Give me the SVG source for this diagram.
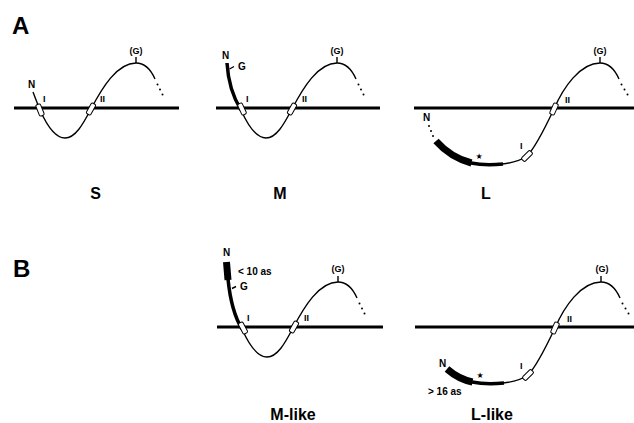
<svg xmlns="http://www.w3.org/2000/svg" width="634" height="423" viewBox="0 0 634 423">
<style>
.mem{stroke:#000;stroke-width:3;fill:none}
.ch{stroke:#000;stroke-width:1.4;fill:none}
.thk{stroke:#000;stroke-width:3.5;fill:none}
.vthk{stroke:#000;stroke-width:7;fill:none}
.box{fill:#fff;stroke:#000;stroke-width:1}
.t{font-family:"Liberation Sans",Arial,sans-serif;font-weight:bold;fill:#000}
.sm{font-size:9px}
.lb{font-size:10px}
.big{font-size:16px}
.hd{font-size:24px}
.st{font-family:"DejaVu Sans",sans-serif;font-size:8px;fill:#000}
</style>
<defs>
<rect id="bx" x="-2.5" y="-6" width="5" height="12" rx="1.5" class="box"/>
<circle id="dt" r="1" fill="#000"/>
</defs>
<rect width="634" height="423" fill="#fff"/>
<text class="t hd" x="12" y="34">A</text>
<text class="t hd" x="13" y="277">B</text>

<g id="panel-S">
<line class="mem" x1="14" y1="108" x2="179" y2="108"/>
<path class="ch" d="M 33 92 Q 36 100 40 110 C 48 128 56 138 65 138 C 76 138 84 122 91 109 C 102 88 117 63 136 63 C 145 63 151 70 155 79"/>
<line class="ch" x1="136" y1="57" x2="136" y2="63"/>
<use href="#bx" transform="translate(40 110) rotate(-22)"/>
<use href="#bx" transform="translate(91 109) rotate(30)"/>
<use href="#dt" x="157.5" y="84.5"/><use href="#dt" x="160" y="89.5"/><use href="#dt" x="162.5" y="94.5"/>
<text class="t lb" x="28" y="88">N</text>
<text class="t sm" x="43" y="102">I</text>
<text class="t sm" x="100" y="102">II</text>
<text class="t sm" x="136" y="54" text-anchor="middle">(G)</text>
<text class="t big" x="95.5" y="199" text-anchor="middle">S</text>
</g>

<g id="panel-M" transform="translate(201 0)">
<line class="mem" x1="15" y1="108" x2="179" y2="108"/>
<path class="ch" d="M 40 110 C 48 128 56 138 65 138 C 76 138 84 122 91 109 C 102 88 117 63 136 63 C 145 63 151 70 155 79"/>
<path class="thk" d="M 26 63 C 27 80 32 97 40 110"/>
<line class="ch" x1="28.5" y1="69" x2="33" y2="66.5"/>
<line class="ch" x1="136" y1="57" x2="136" y2="63"/>
<use href="#bx" transform="translate(41 109) rotate(-25)"/>
<use href="#bx" transform="translate(91 109) rotate(30)"/>
<use href="#dt" x="157.5" y="84.5"/><use href="#dt" x="160" y="89.5"/><use href="#dt" x="162.5" y="94.5"/>
<text class="t lb" x="21" y="59">N</text>
<text class="t lb" x="37" y="70">G</text>
<text class="t sm" x="45" y="102">I</text>
<text class="t sm" x="101" y="102">II</text>
<text class="t sm" x="136" y="54" text-anchor="middle">(G)</text>
<text class="t big" x="79" y="199" text-anchor="middle">M</text>
</g>

<g id="panel-L">
<line class="mem" x1="414" y1="108" x2="634" y2="108"/>
<path class="ch" d="M 502 164 C 512 163 520 161 527 156 C 535 148 545 128 554 109 C 563 88 580 63 600 63 C 609 63 615 70 619 79"/>
<path class="thk" d="M 471 163 C 481 165 492 165 503 164"/>
<path class="vthk" d="M 436 141 C 444 150 456 159 471.5 163"/>
<line class="ch" x1="600" y1="57" x2="600" y2="63"/>
<use href="#bx" transform="translate(527 156) rotate(45)"/>
<use href="#bx" transform="translate(554 109) rotate(24)"/>
<use href="#dt" x="621.5" y="84.5"/><use href="#dt" x="624.5" y="89.5"/><use href="#dt" x="627.5" y="94.5"/>
<use href="#dt" x="429" y="126"/><use href="#dt" x="431" y="131"/><use href="#dt" x="433" y="136"/>
<text class="t lb" x="423" y="121">N</text>
<text class="st" x="479" y="159" text-anchor="middle">★</text>
<text class="t sm" x="520" y="149">I</text>
<text class="t sm" x="565" y="103">II</text>
<text class="t sm" x="600" y="54" text-anchor="middle">(G)</text>
<text class="t big" x="486" y="199" text-anchor="middle">L</text>
</g>

<g id="panel-M-like" transform="translate(202 219)">
<line class="mem" x1="15" y1="108" x2="181" y2="108"/>
<path class="ch" d="M 40 110 C 48 128 56 138 65 138 C 76 138 84 122 91 109 C 102 88 117 63 136 63 C 145 63 151 70 155 79"/>
<path class="vthk" d="M 24.5 43 L 26 61"/>
<path class="thk" d="M 26 60 C 28 80 32 97 40 110"/>
<line class="ch" x1="30" y1="69.5" x2="34" y2="67.5"/>
<line class="ch" x1="136" y1="57" x2="136" y2="63"/>
<use href="#bx" transform="translate(41 109) rotate(-28)"/>
<use href="#bx" transform="translate(92 108) rotate(30)"/>
<use href="#dt" x="157.5" y="84.5"/><use href="#dt" x="160" y="89.5"/><use href="#dt" x="162.5" y="94.5"/>
<text class="t lb" x="21" y="37">N</text>
<text class="t lb" x="36" y="56">&lt; 10 as</text>
<text class="t lb" x="38" y="71">G</text>
<text class="t sm" x="45" y="102">I</text>
<text class="t sm" x="102" y="102">II</text>
<text class="t sm" x="136" y="53" text-anchor="middle">(G)</text>
<text class="t big" x="91" y="201" text-anchor="middle">M-like</text>
</g>

<g id="panel-L-like" transform="translate(1 219)">
<line class="mem" x1="414" y1="108" x2="633" y2="108"/>
<path class="ch" d="M 502 164 C 512 163 520 161 527 156 C 535 148 545 128 554 109 C 563 88 580 63 600 63 C 609 63 615 70 619 79"/>
<path class="thk" d="M 471 163 C 481 165 492 165 503 164"/>
<path class="vthk" d="M 446 150 C 454 157 462 161 471.5 163"/>
<line class="ch" x1="600" y1="57" x2="600" y2="63"/>
<use href="#bx" transform="translate(527 156) rotate(45)"/>
<use href="#bx" transform="translate(554 109) rotate(24)"/>
<use href="#dt" x="621.5" y="84.5"/><use href="#dt" x="624.5" y="89.5"/><use href="#dt" x="627.5" y="94.5"/>
<text class="t lb" x="438" y="148">N</text>
<text class="t lb" x="427" y="176">&gt; 16 as</text>
<text class="st" x="479" y="159" text-anchor="middle">★</text>
<text class="t sm" x="519" y="150">I</text>
<text class="t sm" x="566" y="103">II</text>
<text class="t sm" x="601" y="53" text-anchor="middle">(G)</text>
<text class="t big" x="491" y="201" text-anchor="middle">L-like</text>
</g>
</svg>
